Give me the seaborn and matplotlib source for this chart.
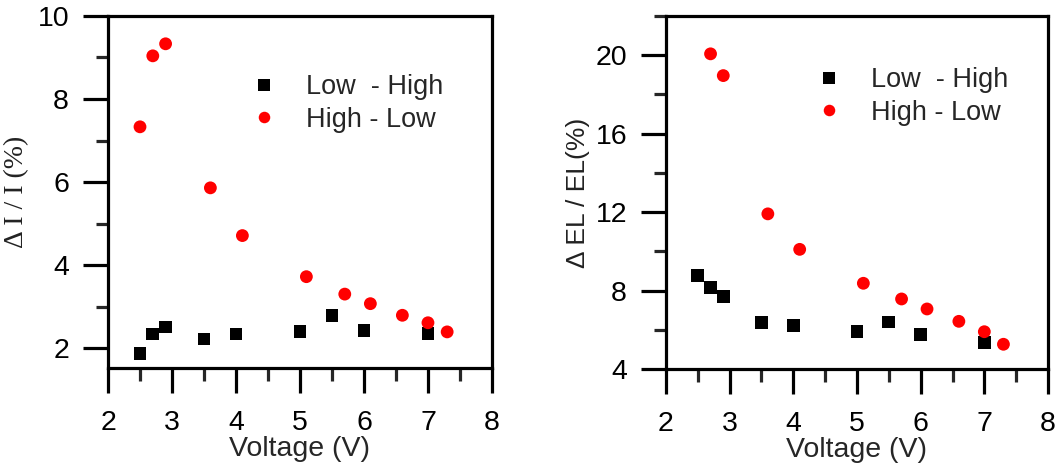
import matplotlib
matplotlib.use("Agg")
import matplotlib.pyplot as plt
from matplotlib.ticker import MultipleLocator
import pandas as pd
import seaborn as sns

# Current change ΔI/I (%)
current_low_high_v = [2.5, 2.7, 2.9, 3.5, 4.0, 5.0, 5.5, 6.0, 7.0]
current_low_high = [1.86, 2.34, 2.51, 2.22, 2.34, 2.39, 2.79, 2.42, 2.35]
current_high_low_v = [2.5, 2.7, 2.9, 3.6, 4.1, 5.1, 5.7, 6.1, 6.6, 7.0, 7.3]
current_high_low = [7.33, 9.04, 9.33, 5.86, 4.71, 3.72, 3.30, 3.07, 2.79, 2.61, 2.39]

# Electroluminescence change ΔEL/EL (%)
el_low_high_v = [2.5, 2.7, 2.9, 3.5, 4.0, 5.0, 5.5, 6.0, 7.0]
el_low_high = [8.78, 8.15, 7.69, 6.35, 6.22, 5.92, 6.40, 5.75, 5.33]
el_high_low_v = [2.7, 2.9, 3.6, 4.1, 5.1, 5.7, 6.1, 6.6, 7.0, 7.3]
el_high_low = [20.07, 18.96, 11.91, 10.10, 8.37, 7.57, 7.06, 6.43, 5.90, 5.26]

series_names = ["Low  - High", "High - Low"]
series_colors = ["#000000", "#ff0000"]
series_markers = ["s", "o"]


def frame(xa, ya, xb, yb):
    return pd.concat([
        pd.DataFrame({"V": xa, "val": ya, "sweep": series_names[0]}),
        pd.DataFrame({"V": xb, "val": yb, "sweep": series_names[1]}),
    ], ignore_index=True)


sns.set_theme(style="ticks")
plt.rcParams["font.family"] = ["Liberation Sans", "DejaVu Sans"]

fig = plt.figure(figsize=(10.63, 4.66), dpi=100)
ax1 = fig.add_axes([0.1016, 0.2103, 0.3612, 0.7554])
ax2 = fig.add_axes([0.6265, 0.2082, 0.3594, 0.7575])

panels = [
    (ax1, frame(current_low_high_v, current_low_high, current_high_low_v, current_high_low),
     (1.52, 10.0), 2, 1, (0.335, 0.835)),
    (ax2, frame(el_low_high_v, el_low_high, el_high_low_v, el_high_low),
     (4.0, 22.0), 4, 2, (0.355, 0.855)),
]

for ax, df, ylim, ymaj, ymin, leg_anchor in panels:
    sns.scatterplot(
        data=df, x="V", y="val", hue="sweep", style="sweep",
        hue_order=series_names, style_order=series_names,
        palette=dict(zip(series_names, series_colors)),
        markers=dict(zip(series_names, series_markers)),
        s=85, linewidth=0, ax=ax, legend=True,
    )
    ax.set_xlim(2, 8)
    ax.set_ylim(*ylim)
    ax.xaxis.set_major_locator(MultipleLocator(1))
    ax.xaxis.set_minor_locator(MultipleLocator(0.5))
    ax.yaxis.set_major_locator(MultipleLocator(ymaj))
    ax.yaxis.set_minor_locator(MultipleLocator(ymin))
    for sp in ax.spines.values():
        sp.set_linewidth(2.3)
        sp.set_color("black")
    ax.tick_params(which="major", direction="out", length=18, width=2.3,
                   labelsize=20.5, colors="black")
    ax.tick_params(axis="x", which="major", pad=12)
    ax.tick_params(axis="y", which="major", pad=10)
    ax.tick_params(which="minor", direction="out", length=9, width=2.3)
    ax.set_xlabel("Voltage (V)", fontsize=20.5, labelpad=0)
    handles, labels = ax.get_legend_handles_labels()
    ax.legend(handles, labels, loc="upper left", bbox_to_anchor=leg_anchor,
              frameon=False, fontsize=19.5, markerscale=0.9,
              handletextpad=0.55, labelspacing=0.25, borderpad=0,
              borderaxespad=0)

ax1.set_ylabel("Δ I / I (%)", fontsize=20, family=["Liberation Serif", "DejaVu Serif"],
               color="#222222", labelpad=6)
ax2.set_ylabel("Δ EL / EL(%)", fontsize=19, color="#222222", labelpad=4)

fig.savefig("out.png", dpi=100)
